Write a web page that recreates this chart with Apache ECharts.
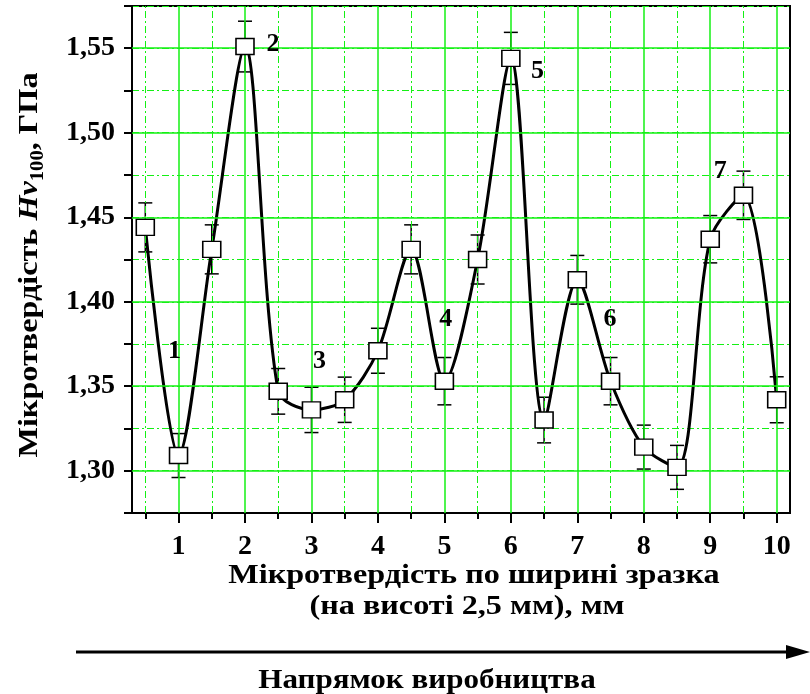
<!DOCTYPE html>
<html>
<head>
<meta charset="utf-8">
<script src="https://cdn.jsdelivr.net/npm/echarts@6/dist/echarts.min.js"></script>
<style>
  html, body { margin: 0; padding: 0; background: #fff; }
  #chart { width: 810px; height: 694px; }
</style>
</head>
<body>
<div id="chart"></div>
<script>
// Measurement positions across the sample width, mm
const positions = [0.5, 1, 1.5, 2, 2.5, 3, 3.5, 4, 4.5, 5, 5.5, 6, 6.5, 7, 7.5, 8, 8.5, 9, 9.5, 10];
// Microhardness Hv100, GPa
const hardness = [1.444, 1.309, 1.431, 1.551, 1.347, 1.336, 1.342, 1.371, 1.431, 1.353,
                  1.425, 1.544, 1.330, 1.413, 1.353, 1.314, 1.302, 1.437, 1.463, 1.342];
// Half-width of the error bars, GPa
const hardnessErr = [0.0145, 0.013, 0.0145, 0.015, 0.0135, 0.0134, 0.0134, 0.0133, 0.0145, 0.014,
                     0.0145, 0.0154, 0.0135, 0.0144, 0.014, 0.013, 0.013, 0.014, 0.0143, 0.0136];

// Axis ticks and grid lines
const xMajorTicks = [1, 2, 3, 4, 5, 6, 7, 8, 9, 10];
const xMinorTicks = [0.5, 1.5, 2.5, 3.5, 4.5, 5.5, 6.5, 7.5, 8.5, 9.5];
const yMajorTicks = [1.30, 1.35, 1.40, 1.45, 1.50, 1.55];

// Zone numbers and where they sit (mm, GPa)
const zoneLabels = ['1', '2', '3', '4', '5', '6', '7'];
const zoneAnchorX = [0.94, 2.42, 3.12, 5.02, 6.40, 7.49, 9.15];
const zoneAnchorY = [1.3708, 1.5526, 1.365, 1.3898, 1.5366, 1.3898, 1.4773];

const FONT = "'Liberation Serif', 'Times New Roman', serif";
const GREEN = '#14f014';
const DASHDOT = [7, 3, 2, 3];

const chart = echarts.init(document.getElementById('chart'), null, { renderer: 'canvas' });

const points = positions.map((x, i) => [x, hardness[i]]);
const bars = positions.map((x, i) => [x, hardness[i] - hardnessErr[i], hardness[i] + hardnessErr[i]]);

const gridLines = [].concat(
  xMinorTicks.map(v => ({ xAxis: v, lineStyle: { color: GREEN, width: 1, type: DASHDOT } })),
  xMajorTicks.map(v => ({ xAxis: v, lineStyle: { color: GREEN, width: 1.5, type: 'solid' } })),
  yMajorTicks.map(v => ({ yAxis: v, lineStyle: { color: GREEN, width: 1.5, type: 'solid' } }))
);

const titleFont = "bold 28px 'Liberation Serif', 'Times New Roman', serif";

const option = {
  animation: false,
  backgroundColor: '#fff',
  grid: {
    left: 132, right: 20, top: 6, bottom: 181,
    show: true, borderColor: '#000', borderWidth: 2, backgroundColor: 'transparent'
  },
  xAxis: [
    {
      type: 'value', min: 0.3, max: 10.2,
      axisLine: { lineStyle: { color: '#000', width: 2 } },
      axisTick: { customValues: xMajorTicks, length: 10, lineStyle: { color: '#000', width: 2 } },
      axisLabel: {
        customValues: xMajorTicks, margin: 20, color: '#000',
        fontFamily: FONT, fontWeight: 'bold', fontSize: 28
      },
      splitLine: { show: false }
    },
    {
      type: 'value', min: 0.3, max: 10.2, position: 'bottom',
      axisLine: { show: false },
      axisTick: { customValues: xMinorTicks, length: 6, lineStyle: { color: '#000', width: 2 } },
      axisLabel: { show: false },
      splitLine: { show: false }
    }
  ],
  yAxis: {
    type: 'value', min: 1.275, max: 1.575, interval: 0.025,
    axisLine: { show: true, lineStyle: { color: '#000', width: 2 } },
    axisTick: { show: true, length: 8, lineStyle: { color: '#000', width: 2 } },
    axisLabel: {
      margin: 17, color: '#000', fontFamily: FONT, fontWeight: 'bold', fontSize: 28,
      formatter: v => {
        const milli = Math.round(v * 1000);
        return milli % 50 === 0 ? (milli / 1000).toFixed(2).replace('.', ',') : '';
      }
    },
    splitLine: { show: true, lineStyle: { color: GREEN, width: 1, type: DASHDOT } }
  },
  series: [
    {
      name: 'grid',
      type: 'line',
      data: [],
      silent: true,
      z: 1,
      markLine: {
        silent: true,
        symbol: ['none', 'none'],
        label: { show: false },
        emphasis: { disabled: true },
        data: gridLines
      }
    },
    {
      name: 'fit',
      type: 'line',
      data: points,
      smooth: 0.3,
      showSymbol: false,
      symbol: 'none',
      lineStyle: { color: '#000', width: 3 },
      z: 3
    },
    {
      name: 'error',
      type: 'custom',
      data: bars,
      z: 4,
      renderItem: (params, api) => {
        const x = api.value(0);
        const lo = api.coord([x, api.value(1)]);
        const hi = api.coord([x, api.value(2)]);
        const cap = 7;
        const style = { stroke: '#000', lineWidth: 1.5 };
        return {
          type: 'group',
          children: [
            { type: 'line', shape: { x1: lo[0], y1: lo[1], x2: hi[0], y2: hi[1] }, style },
            { type: 'line', shape: { x1: lo[0] - cap, y1: lo[1], x2: lo[0] + cap, y2: lo[1] }, style },
            { type: 'line', shape: { x1: hi[0] - cap, y1: hi[1], x2: hi[0] + cap, y2: hi[1] }, style }
          ]
        };
      }
    },
    {
      name: 'points',
      type: 'scatter',
      data: points,
      symbol: 'rect',
      symbolSize: [18, 16],
      itemStyle: { color: '#fff', borderColor: '#000', borderWidth: 1.5, opacity: 1 },
      z: 5
    },
    {
      name: 'zones',
      type: 'scatter',
      data: zoneLabels.map((n, i) => ({ name: n, value: [zoneAnchorX[i], zoneAnchorY[i]] })),
      symbolSize: 0,
      silent: true,
      z: 6,
      itemStyle: { opacity: 1 },
      label: {
        show: true, position: 'inside', formatter: '{b}', color: '#000', opacity: 1,
        fontFamily: FONT, fontWeight: 'bold', fontSize: 26
      }
    }
  ],
  graphic: [
    {
      type: 'text',
      x: 30, y: 265, rotation: Math.PI / 2, scaleX: 1.15,
      style: {
        text: 'Мікротвердість {i|Hv}{sub|100}, ГПа',
        fill: '#000', font: titleFont, align: 'center', verticalAlign: 'middle',
        rich: {
          i: { font: "bold italic 28px 'Liberation Serif', 'Times New Roman', serif", fill: '#000', lineHeight: 34 },
          sub: { font: "bold 18px 'Liberation Serif', 'Times New Roman', serif", fill: '#000', lineHeight: 14, verticalAlign: 'bottom' }
        },
        lineHeight: 34
      }
    },
    {
      type: 'text',
      x: 474, y: 576, scaleX: 1.15,
      style: {
        x: 0, y: 0, text: 'Мікротвердість по ширині зразка',
        fill: '#000', font: titleFont, align: 'center', verticalAlign: 'middle'
      }
    },
    {
      type: 'text',
      x: 467, y: 607, scaleX: 1.15,
      style: {
        x: 0, y: 0, text: '(на висоті 2,5 мм), мм',
        fill: '#000', font: titleFont, align: 'center', verticalAlign: 'middle'
      }
    },
    {
      type: 'line',
      shape: { x1: 76, y1: 652, x2: 792, y2: 652 },
      style: { stroke: '#000', lineWidth: 3 }
    },
    {
      type: 'polygon',
      shape: { points: [[786, 645], [810, 652], [786, 659]] },
      style: { fill: '#000' }
    },
    {
      type: 'text',
      x: 427, y: 681, scaleX: 1.15,
      style: {
        x: 0, y: 0, text: 'Напрямок виробництва',
        fill: '#000', font: "bold 27px 'Liberation Serif', 'Times New Roman', serif",
        align: 'center', verticalAlign: 'middle'
      }
    }
  ]
};

chart.setOption(option);
</script>
</body>
</html>
